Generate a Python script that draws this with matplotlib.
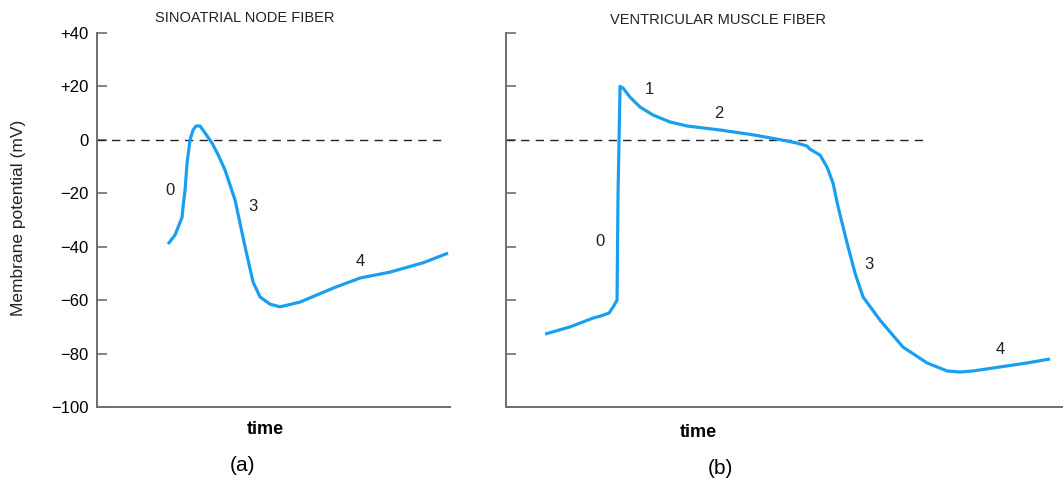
import matplotlib
matplotlib.use("Agg")
import matplotlib.pyplot as plt

plt.rcParams['font.family'] = ['Liberation Sans', 'DejaVu Sans']

# values (time in arbitrary units, potential in mV)
sa_time = [71, 78, 85, 86, 88, 90, 93, 96, 99, 103, 108, 115, 121, 128, 138,
           148, 156, 163, 173, 183, 203, 236, 263, 293, 326, 351]
sa_mv = [-39, -35.6, -29, -25, -18.8, -8.7, 0, 3.7, 5.2, 5.2, 2.6, -1.2, -5.5,
         -11.3, -22.5, -40, -53.2, -58.8, -61.5, -62.5, -60.7, -55.5, -51.7,
         -49.5, -46, -42.4]

vm_time = [39, 64, 87, 94, 103, 107, 111, 112, 113, 114, 117, 124, 134, 147,
           164, 181, 214, 247, 281, 291, 301, 304, 314, 321, 327, 332, 341, 349,
           357, 374, 397, 421, 441, 454, 467, 494, 521, 544]
vm_mv = [-72.7, -70, -66.7, -66, -64.8, -62.6, -60, -20, 0, 20, 19.4, 16,
         12.3, 9.3, 6.7, 5.2, 3.7, 1.9, -0.4, -1.2, -2.3, -3.5, -5.7, -10.2,
         -16.2, -25, -38.6, -49.9, -58.8, -67.5, -77.6, -83.5, -86.5, -86.9,
         -86.5, -85, -83.5, -82]

yticks = [40, 20, 0, -20, -40, -60, -80, -100]
ytick_labels = ['+40', '+20', '0', '\u221220', '\u221240', '\u221260', '\u221280', '\u2212100']

sa_phases = [('0', 73, -18.8), ('3', 156, -25.1), ('4', 263, -45.4)]
vm_phases = [('0', 94, -37.9), ('1', 143, 19), ('2', 213, 10),
             ('3', 363, -46.5), ('4', 494, -78.3)]

blue = '#1a9ff0'
grey = '#6e6e6e'

fig = plt.figure(figsize=(10.64, 4.83), dpi=100)
ax1 = fig.add_axes([0.0912, 0.1573, 0.3318, 0.7743])
ax2 = fig.add_axes([0.4756, 0.1573, 0.5226, 0.7743])


def style_axis(ax, xmax, labels):
    ax.set_xlim(0, xmax)
    ax.set_ylim(-100, 40)
    for s in ['top', 'right']:
        ax.spines[s].set_visible(False)
    for s in ['left', 'bottom']:
        ax.spines[s].set_color(grey)
        ax.spines[s].set_linewidth(1.4)
    ax.set_xticks([])
    ax.set_yticks(yticks)
    if labels:
        ax.set_yticklabels(ytick_labels, fontsize=12)
    else:
        ax.set_yticklabels([])
    ax.tick_params(axis='y', direction='in', length=7, width=1.2, color=grey, pad=6)


style_axis(ax1, 353, True)
style_axis(ax2, 556, False)

ax1.plot([0, 345], [0, 0], color='#222222', lw=1, ls=(0, (6, 4.5)))
ax2.plot([0, 422], [0, 0], color='#222222', lw=1, ls=(0, (6, 4.5)))

ax1.plot(sa_time, sa_mv, color=blue, lw=2.3, solid_joinstyle='round',
         solid_capstyle='butt')
ax2.plot(vm_time, vm_mv, color=blue, lw=2.3, solid_joinstyle='round',
         solid_capstyle='butt')

for lab, x, y in sa_phases:
    ax1.text(x, y, lab, fontsize=12, ha='center', va='center', color='#222222')
for lab, x, y in vm_phases:
    ax2.text(x, y, lab, fontsize=12, ha='center', va='center', color='#222222')

fig.text(0.230, 0.963, 'SINOATRIAL NODE FIBER', fontsize=10.5, ha='center', va='center',
         color='#222222')
fig.text(0.675, 0.959, 'VENTRICULAR MUSCLE FIBER', fontsize=10.5, ha='center', va='center',
         color='#222222')
fig.text(0.017, 0.549, 'Membrane potential (mV)', fontsize=12.5, rotation=90,
         ha='center', va='center', color='#222222')

fig.text(0.249, 0.110, 'time', fontsize=13, fontweight='bold', ha='center', va='center')
fig.text(0.656, 0.104, 'time', fontsize=13, fontweight='bold', ha='center', va='center')
fig.text(0.228, 0.037, '(a)', fontsize=15, ha='center', va='center')
fig.text(0.677, 0.031, '(b)', fontsize=15, ha='center', va='center')

fig.savefig('out.png', dpi=100)
